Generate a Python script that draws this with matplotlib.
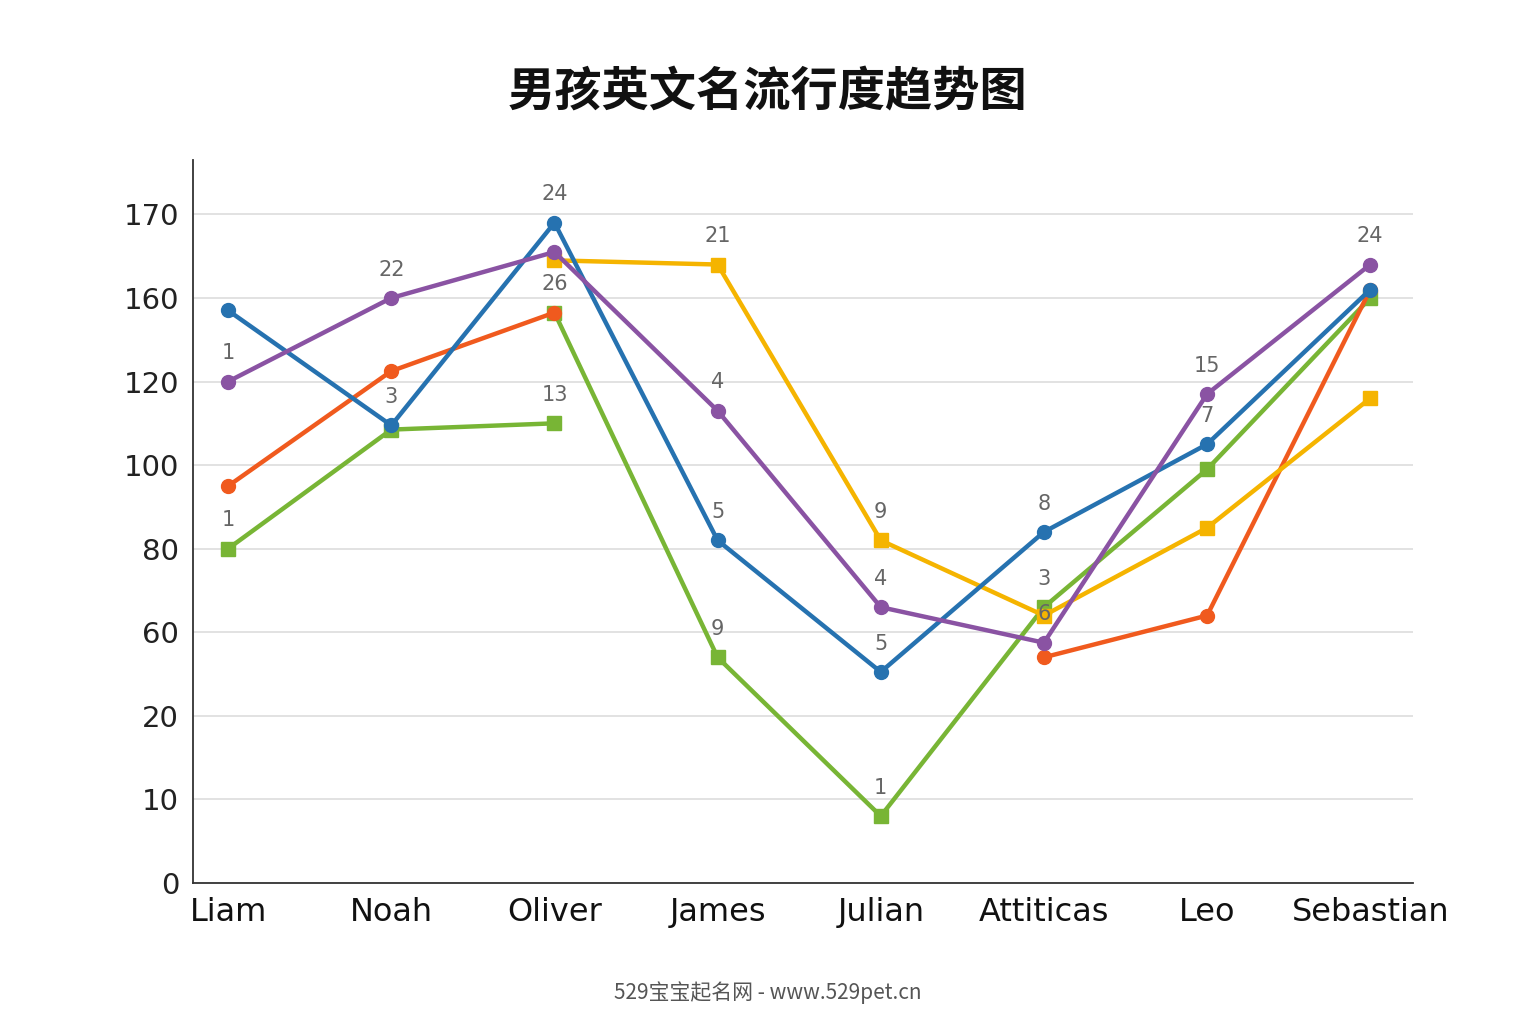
import matplotlib
matplotlib.use("Agg")
import matplotlib.pyplot as plt
import numpy as np

plt.rcParams['font.family'] = ['DejaVu Sans', 'Noto Sans CJK SC']

names = ["Liam", "Noah", "Oliver", "James", "Julian", "Attiticas", "Leo", "Sebastian"]
ytick_vals = [0, 10, 20, 60, 80, 100, 120, 160, 170]
nan = np.nan

blue = [154, 109.5, 169, 82, 41, 84, 105, 161]
purple = [120, 160, 165.5, 113, 66, 55, 117, 164]
orange_a = [95, 125, 153, nan, nan, nan, nan, nan]
orange_b = [nan, nan, nan, nan, nan, 48, 64, 161]
yellow = [nan, nan, 164.5, 164, 82, 64, 85, 116]
green_a = [80, 108.5, 110, nan, nan, nan, nan, nan]
green_b = [nan, nan, 153, 48, 8, 66, 99, 160]

# (category index, value, text)
labels = [(0, 120, "1"), (0, 80, "1"), (1, 160, "22"), (1, 109.5, "3"),
          (2, 169, "24"), (2, 153, "26"), (2, 110, "13"),
          (3, 164, "21"), (3, 113, "4"), (3, 82, "5"), (3, 48, "9"),
          (4, 82, "9"), (4, 66, "4"), (4, 41, "5"), (4, 8, "1"),
          (5, 84, "8"), (5, 66, "3"), (5, 55, "6"),
          (6, 117, "15"), (6, 105, "7"), (7, 164, "24")]

C_BLUE, C_PURPLE, C_ORANGE = "#2672b0", "#8a53a3", "#f05a1e"
C_YELLOW, C_GREEN = "#f5b400", "#78b535"


def to_pos(v):
    return np.interp(v, ytick_vals, np.arange(len(ytick_vals)))


fig = plt.figure(figsize=(15.36, 10.24), dpi=100)
ax = fig.add_axes([0.1257, 0.1377, 0.794, 0.706])
x = np.arange(len(names))

series = [(green_a, C_GREEN, "s"), (green_b, C_GREEN, "s"),
          (orange_a, C_ORANGE, "o"), (orange_b, C_ORANGE, "o"),
          (yellow, C_YELLOW, "s"),
          (blue, C_BLUE, "o"), (purple, C_PURPLE, "o")]
for vals, c, m in series:
    v = np.array(vals, dtype=float)
    y = np.where(np.isnan(v), nan, to_pos(np.nan_to_num(v)))
    ax.plot(x, y, color=c, lw=3.2, marker=m, ms=10, zorder=3)

for i, v, t in labels:
    ax.text(i, to_pos(v) + 0.22, t, ha="center", va="bottom",
            fontsize=15, color="#666666", zorder=4)

ax.set_xlim(-0.215, 7.26)
ax.set_ylim(0, 8.65)
ax.set_yticks(np.arange(len(ytick_vals)))
ax.set_yticklabels([str(v) for v in ytick_vals], fontsize=21, color="#222222")
ax.set_xticks(x)
ax.set_xticklabels(names, fontsize=23, color="#111111")
ax.tick_params(length=0, pad=10)
ax.grid(axis="y", color="#dddddd", lw=1.2, zorder=0)
for s in ["top", "right"]:
    ax.spines[s].set_visible(False)
for s in ["left", "bottom"]:
    ax.spines[s].set_color("#333333")
    ax.spines[s].set_linewidth(1.3)

fig.text(0.5, 0.91, "男孩英文名流行度趋势图", ha="center", va="center",
         fontsize=34, fontweight="bold", color="#111111",
         family=['Noto Sans CJK SC', 'DejaVu Sans'])
fig.text(0.5, 0.031, "529宝宝起名网 - www.529pet.cn", ha="center", va="center",
         fontsize=15, color="#555555",
         family=['Noto Sans CJK SC', 'DejaVu Sans'])

fig.savefig("out.png", dpi=100)
